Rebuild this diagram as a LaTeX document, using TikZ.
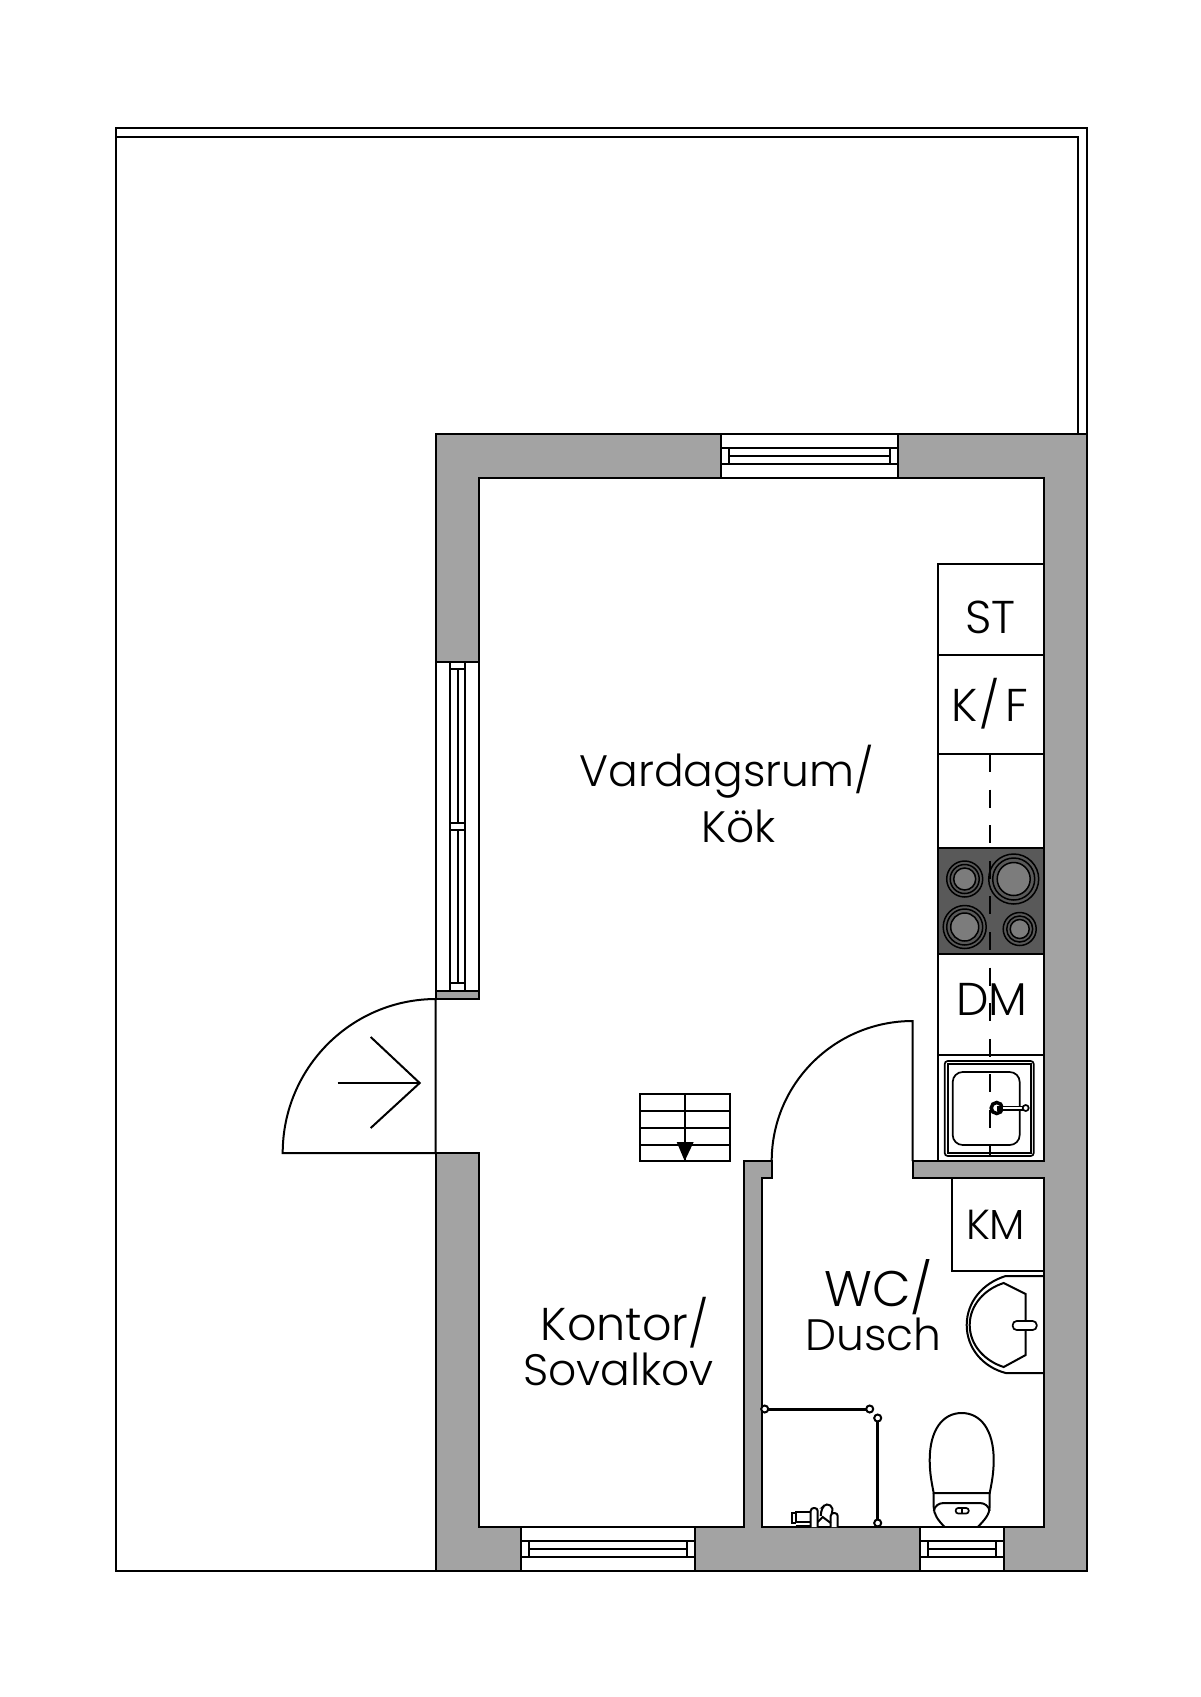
\documentclass[tikz,border=0pt]{standalone}
\usepackage{fontspec}
\setmainfont{Poppins}[UprightFont=* Light]
\tikzset{
	wall/.style = {draw, line width=2pt, fill=wallgray, line join=miter},
	line/.style = {draw, line width=2pt},
	fine/.style = {draw, line width=1.7pt},
	glass/.style = {draw, line width=2pt, fill=white},
	room/.style = {inner sep=0pt, font=\fontsize{44}{44}\selectfont},
	unit/.style = {inner sep=0pt, font=\fontsize{46}{46}\selectfont},
	burner/.style = {draw, line width=1.5pt},
	fixing/.style = {draw, line width=2pt, fill=white, circle, inner sep=0pt, minimum size=7pt},
}
\definecolor{wallgray}{HTML}{A3A3A3}
\definecolor{hobgray}{HTML}{595959}
\definecolor{ringgray}{HTML}{7C7C7C}
\begin{document}
\begin{tikzpicture}[x=1pt, y=-1pt]
	\useasboundingbox[fill=white] (-0.7,0) rectangle (1199.3,1697);

	% terrace
	\draw[line] (435,1571) -- (115.3,1571) -- (115.3,128) -- (1086,128) -- (1086,434);
	\draw[line] (115.3,137) -- (1077,137) -- (1077,434);

	% walls
	\draw[wall] (435,434) -- (1086,434) -- (1086,1571) -- (435,1571) -- (435,1153) -- (478,1153)
		-- (478,1527) -- (743,1527) -- (743,1161) -- (771,1161) -- (771,1178) -- (761,1178) -- (761,1527)
		-- (1043,1527) -- (1043,1178) -- (912,1178) -- (912,1161) -- (1043,1161) -- (1043,478)
		-- (478,478) -- (478,999) -- (435,999) -- cycle;

	% windows
	\foreach \xa/\xb/\ya in {720/897/434, 520/694/1527, 919/1003/1527}{
		\draw[glass] (\xa,\ya) rectangle (\xb,\ya+44);
		\draw[line] (\xa,\ya+14) -- (\xb,\ya+14);
		\draw[line] (\xa,\ya+30) -- (\xb,\ya+30);
		\draw[line] (\xa+8,\ya+22) -- (\xb-8,\ya+22);
		\draw[line] (\xa+8,\ya+14) -- (\xa+8,\ya+30);
		\draw[line] (\xb-8,\ya+14) -- (\xb-8,\ya+30);
	}
	\draw[glass] (435,662) rectangle (478,991);
	\draw[line] (449,662) -- (449,991);
	\draw[line] (464,662) -- (464,991);
	\draw[line] (457,669) -- (457,823);
	\draw[line] (457,830) -- (457,983);
	\foreach \ya in {669,823,830,983}{
		\draw[line] (449,\ya) -- (464,\ya);
	}

	% entrance door
	\draw[line] (435,999) -- (435,1153) -- (282,1153) arc (180:270:153.5 and 154);
	\draw[line] (337,1083) -- (419,1083);
	\draw[line] (370,1037) -- (419,1083) -- (370,1128);

	% stairs
	\draw[line] (639,1094) rectangle (729,1161);
	\foreach \ya in {1111,1128,1145}{
		\draw[line] (639,\ya) -- (729,\ya);
	}
	\draw[line] (684,1094) -- (684,1161);
	\fill (676,1142) -- (693,1142) -- (684,1161) -- cycle;

	% bathroom door
	\draw[line] (771,1161) arc (180:270:141 and 140) -- (912,1161);

	% kitchen units
	\draw[line] (937,564) rectangle (1043,655);
	\draw[line] (937,655) rectangle (1043,754);
	\draw[line] (937,754) rectangle (1043,848);
	\draw[line, fill=hobgray] (937,848) rectangle (1043,954);
	\draw[line] (937,954) rectangle (1043,1055);
	\draw[line] (937,1055) -- (937,1161);
	\foreach \cx/\cy/\ra/\rb/\rc in {964/879/18/14.5/11, 1013/879/25/21/16.5, 964/927/21.5/18/14, 1019/929/16.5/13/9.5}{
		\draw[burner] (\cx,\cy) circle (\ra);
		\draw[burner] (\cx,\cy) circle (\rb);
		\draw[burner, fill=ringgray] (\cx,\cy) circle (\rc);
	}

	% sink
	\draw[fine, rounded corners=3pt] (944,1061) rectangle (1033,1156);
	\draw[fine] (947,1064) rectangle (1030,1153);
	\draw[fine, rounded corners=10pt] (952,1072) rectangle (1019,1145);

	% dashed centre line
	\draw[fine, dash pattern=on 18pt off 17.6pt] (989,754) -- (989,1155);

	\draw[line width=3.5pt] (996,1108) circle (5.5);
	\draw[line width=5pt] (996,1108) -- (1025,1108);
	\draw[line width=1.5pt, white] (1002,1108) -- (1023,1108);
	\draw[fine, fill=white] (1025,1108) circle (3);

	% washing machine
	\draw[line] (951,1178) -- (951,1271) -- (1043,1271);

	% washbasin
	\draw[line] (1043,1276) -- (1005,1276) .. controls (982,1283) and (966,1302) .. (966,1325)
		.. controls (966,1348) and (982,1367) .. (1005,1373) -- (1043,1373);
	\draw[line] (1025,1294) -- (1003,1283) .. controls (984,1289) and (969,1305) .. (969,1325)
		.. controls (969,1345) and (984,1361) .. (1003,1367) -- (1025,1355) -- cycle;
	\draw[fine, fill=white, rounded corners=4pt] (1012,1321) rectangle (1036,1330);

	% shower screen
	\draw[line width=3pt] (764,1409) -- (869,1409);
	\draw[line width=3pt] (877,1418) -- (877,1523);
	\node[fixing] (s1) at (764,1409) {};
	\node[fixing] (s2) at (869,1409) {};
	\node[fixing] (s3) at (877,1418) {};
	\node[fixing] (s4) at (877,1523) {};

	% shower mixer
	\draw[line] (795,1513) -- (791,1513) -- (791,1523) -- (795,1523);
	\draw[line] (795,1512) rectangle (810,1522);
	\draw[fine] (795,1526) -- (810,1526);
	\draw[line, fill=white, rounded corners=3pt] (810,1527) -- (810,1508) -- (817,1508) -- (817,1527);
	\draw[line, fill=white, rounded corners=3pt] (830,1527) -- (830,1513) -- (837,1513) -- (837,1527);
	\draw[line, rounded corners=4pt] (820,1516) -- (821,1508) -- (826,1503) -- (833,1508) -- (831,1513);
	\draw[line] (817,1522) -- (822,1517) -- (830,1523);

	% toilet
	\draw[line] (961,1413) .. controls (942,1413) and (929,1430) .. (929,1460)
		.. controls (929,1473) and (931,1483) .. (933,1493) -- (989,1493)
		.. controls (991,1483) and (993,1473) .. (993,1460) .. controls (993,1430) and (980,1413) .. (961,1413) -- cycle;
	\draw[line] (944,1527) .. controls (937,1520) and (933,1514) .. (933,1507) -- (933,1493);
	\draw[line] (977,1527) .. controls (984,1520) and (989,1514) .. (989,1507) -- (989,1493);
	\draw[line] (933,1511) .. controls (934,1506) and (938,1503) .. (943,1503)
		-- (979,1503) .. controls (984,1503) and (988,1506) .. (989,1511);
	\draw[fine, rounded corners=2.5pt] (955,1508) rectangle (968,1513.5);
	\draw[fine] (961.5,1508) -- (961.5,1513.5);

	% rooms
	\node[room] (living) at (726,771.5) {Vardagsrum/};
	\node[room] (kitchen) at (738,826) {Kök};
	\node[room, font=\fontsize{46}{46}\selectfont] (office) at (624,1323) {Kontor/};
	\node[room] (alcove) at (618,1369) {Sovalkov};
	\node[room, font=\fontsize{50}{50}\selectfont] (wc) at (878,1287) {WC/};
	\node[room] (shower) at (873,1334) {Dusch};

	% appliances
	\node[unit] (st) at (990,617.5) {ST};
	\node[unit] (kf) at (989,704) {K\kern2pt/\kern5pt F};
	\node[unit] (dm) at (991,999) {DM};
	\node[unit, font=\fontsize{42}{42}\selectfont] (km) at (995,1225) {KM};
\end{tikzpicture}
\end{document}
